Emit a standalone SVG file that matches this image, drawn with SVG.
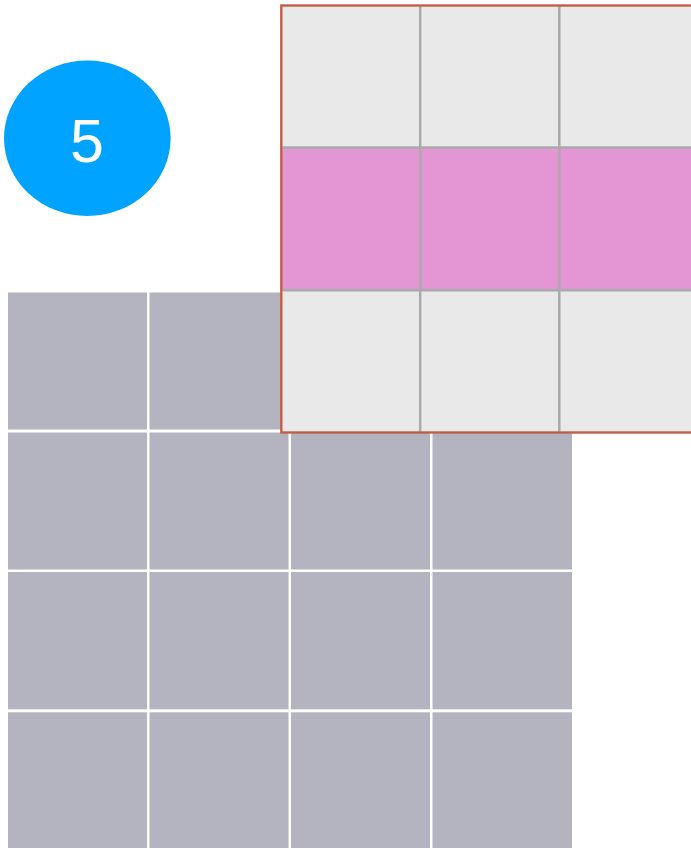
<svg xmlns="http://www.w3.org/2000/svg" width="691" height="848" viewBox="0 0 691 848">
<style>
.g{fill:#b4b4c0}
.lc{fill:#e9e9e9}
.pk{fill:#e495d4}
.ln{stroke:#aaaaaa;stroke-width:2.5;fill:none}
</style>
<rect width="691" height="848" fill="#ffffff"/>
<g id="base-grid">
<rect class="g" x="8" y="292.5" width="139" height="137"/>
<rect class="g" x="149.5" y="292.5" width="139" height="137"/>
<rect class="g" x="291" y="292.5" width="139" height="137"/>
<rect class="g" x="432.5" y="292.5" width="139.5" height="137"/>
<rect class="g" x="8" y="432.5" width="139" height="137"/>
<rect class="g" x="149.5" y="432.5" width="139" height="137"/>
<rect class="g" x="291" y="432.5" width="139" height="137"/>
<rect class="g" x="432.5" y="432.5" width="139.5" height="137"/>
<rect class="g" x="8" y="572" width="139" height="137.3"/>
<rect class="g" x="149.5" y="572" width="139" height="137.3"/>
<rect class="g" x="291" y="572" width="139" height="137.3"/>
<rect class="g" x="432.5" y="572" width="139.5" height="137.3"/>
<rect class="g" x="8" y="712.3" width="139" height="140"/>
<rect class="g" x="149.5" y="712.3" width="139" height="140"/>
<rect class="g" x="291" y="712.3" width="139" height="140"/>
<rect class="g" x="432.5" y="712.3" width="139.5" height="140"/>
</g>
<g id="kernel">
<rect class="lc" x="281.3" y="5.5" width="420" height="142"/>
<rect class="pk" x="281.3" y="147.5" width="420" height="142.8"/>
<rect class="lc" x="281.3" y="290.3" width="420" height="142.2"/>
<line class="ln" x1="420.2" y1="5.5" x2="420.2" y2="432.5"/>
<line class="ln" x1="559.3" y1="5.5" x2="559.3" y2="432.5"/>
<line class="ln" x1="281.3" y1="147.5" x2="700" y2="147.5"/>
<line class="ln" x1="281.3" y1="290.3" x2="700" y2="290.3"/>
<rect x="281.3" y="5.5" width="420" height="427" fill="none" stroke="#c0604a" stroke-width="2.4"/>
</g>
<g id="badge">
<ellipse cx="87.3" cy="138.3" rx="83.3" ry="77.7" fill="#00a3ff"/>
<text x="87" y="162.3" text-anchor="middle" font-family="'Liberation Sans', Arial, sans-serif" font-size="61" fill="#ffffff">5</text>
</g>
<g id="connectors"></g>
</svg>
